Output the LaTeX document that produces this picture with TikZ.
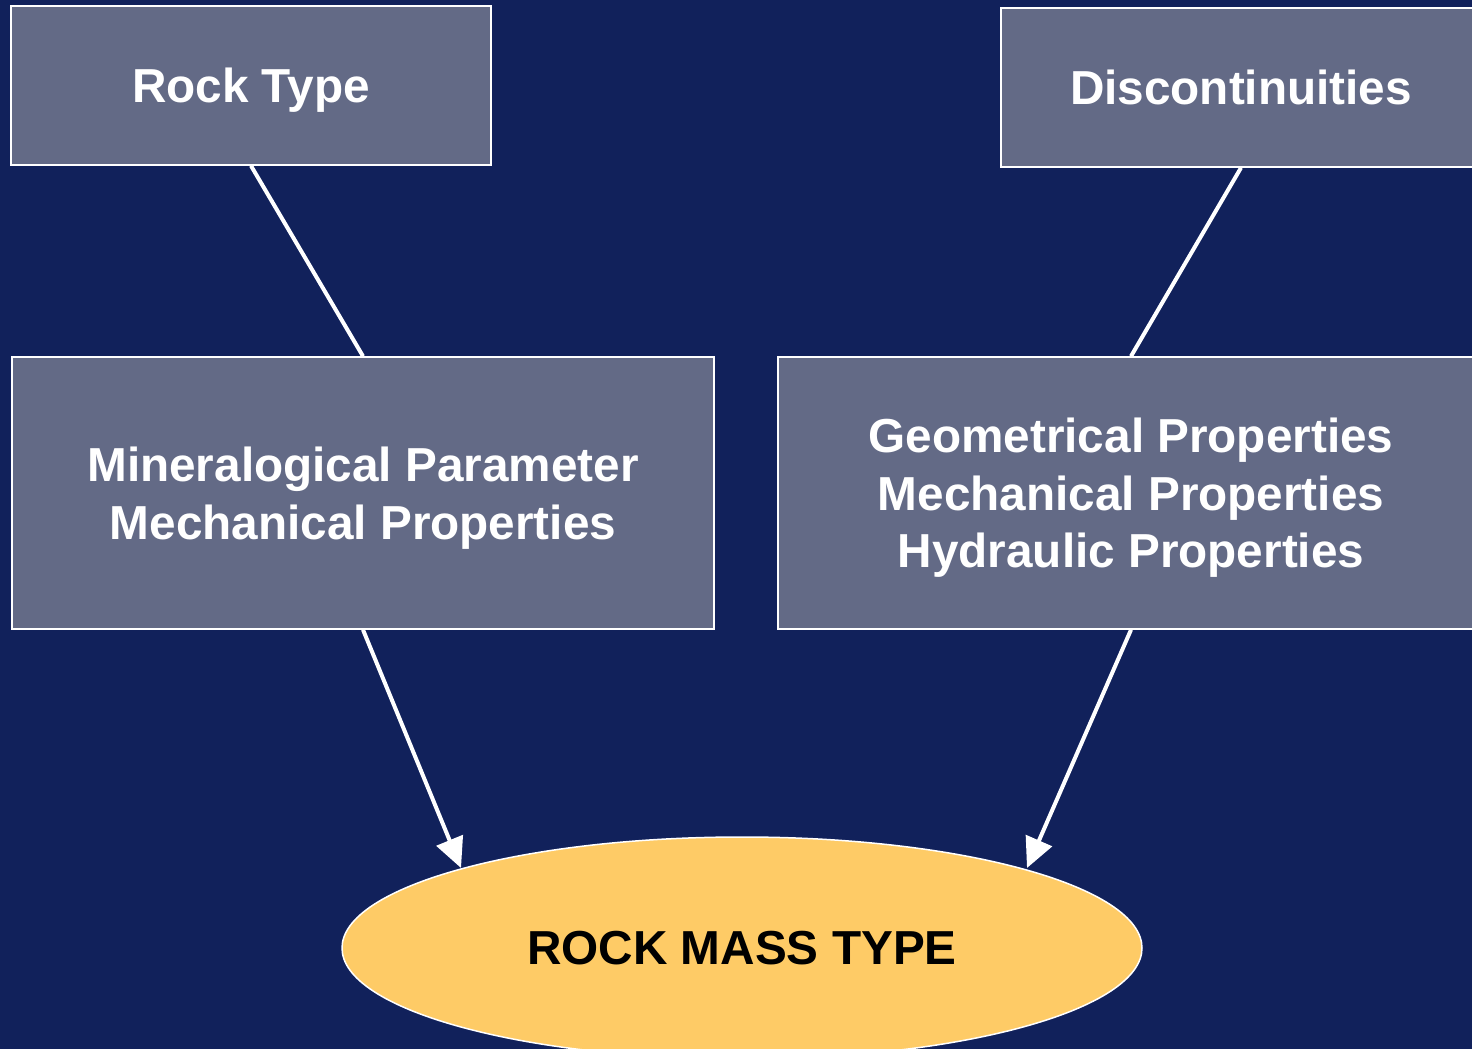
\documentclass[tikz,border=0pt]{standalone}
\usepackage{fontspec}
\setmainfont{Liberation Sans}
\usetikzlibrary{arrows.meta,shapes.geometric}
\definecolor{bgnavy}{HTML}{11215B}
\definecolor{boxfill}{HTML}{636A86}
\definecolor{ellfill}{HTML}{FECB66}
\tikzset{
  pbox/.style={draw=white, line width=1.5pt, fill=boxfill, text=white, inner sep=0pt, align=center,
    text depth=0pt, font=\fontsize{47.7}{57.5}\selectfont\bfseries},
  conn/.style={draw=white, line width=4pt},
  arr/.style={conn, -{Triangle[length=30pt,width=28pt]}}
}
\begin{document}
\begin{tikzpicture}[x=1pt,y=-1pt]
\useasboundingbox (0,0) rectangle (1472,1049);
\clip (0,0) rectangle (1472,1049);
\fill[bgnavy] (0,0) rectangle (1472,1049);
\node[pbox, minimum width=480pt, minimum height=159pt] (rock) at (251,85.5) {Rock Type};
\node[pbox, minimum width=480pt, minimum height=159pt] (disc) at (1241,87.5) {Discontinuities};
\node[pbox, minimum width=702pt, minimum height=272pt] (mine) at (363,493) {Mineralogical Parameter\\Mechanical Properties};
\node[pbox, minimum width=706pt, minimum height=272pt] (geo) at (1131,493) {Geometrical Properties\\Mechanical Properties\\Hydraulic Properties};
\node[ellipse, draw=white, line width=1.5pt, fill=ellfill, minimum width=800pt, minimum height=222pt, inner sep=0pt,
  font=\fontsize{47.7}{57.5}\selectfont\bfseries, text=black] (mass) at (742,948) {ROCK MASS TYPE};
\coordinate (tipL) at (461,868);
\coordinate (tipR) at (1027,868);
\draw[conn] (rock.south) -- (mine.north);
\draw[conn] (disc.south) -- (geo.north);
\draw[arr] (mine.south) -- (tipL);
\draw[arr] (geo.south) -- (tipR);
\end{tikzpicture}
\end{document}
